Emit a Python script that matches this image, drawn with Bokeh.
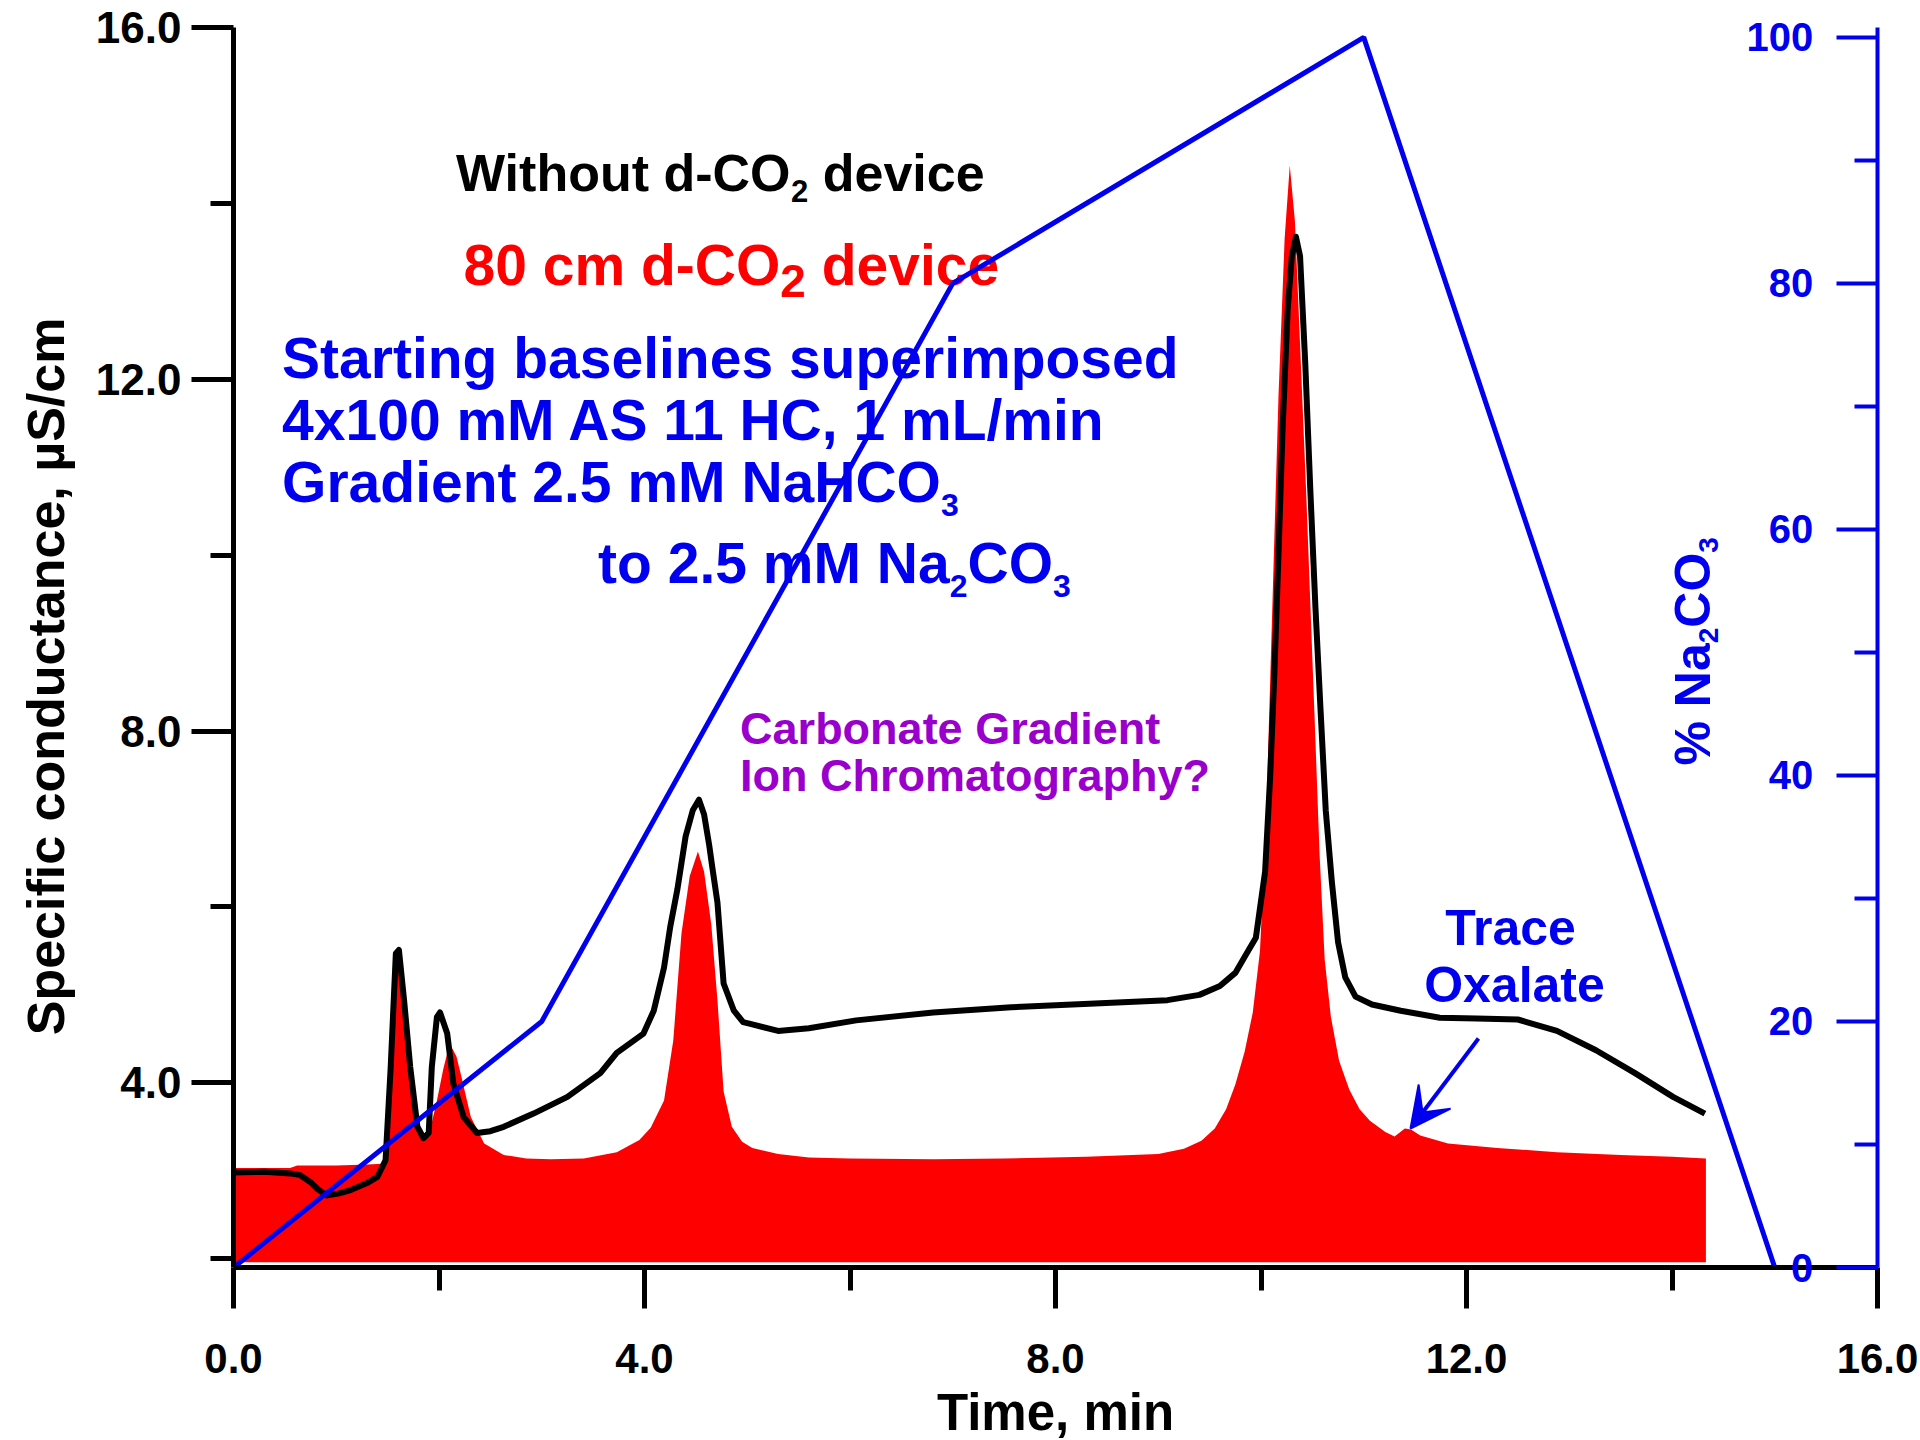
import math
from bokeh.plotting import figure
from bokeh.models import (Range1d, LinearAxis, FixedTicker, PrintfTickFormatter,
                          Arrow, VeeHead)
from bokeh.core.properties import value
from bokeh.embed import file_html
from bokeh.resources import INLINE

# ---------------- data ----------------
# 80 cm d-CO2 device (red filled trace), uS/cm
red_time = [0.00, 0.55, 0.62, 1.00, 1.30, 1.45, 1.51, 1.56, 1.60, 1.64, 1.72, 1.80, 1.87, 1.93,
            1.98, 2.04, 2.08, 2.13, 2.17, 2.21, 2.31, 2.44, 2.63, 2.85, 3.09, 3.41, 3.73, 3.95,
            4.06, 4.19, 4.28, 4.36, 4.44, 4.52, 4.58, 4.65, 4.71, 4.77, 4.85, 4.95, 5.05, 5.30,
            5.60, 6.00, 6.81, 7.50, 8.30, 9.00, 9.25, 9.42, 9.55, 9.66, 9.75, 9.84, 9.92, 9.99,
            10.05, 10.11, 10.17, 10.23, 10.28, 10.33, 10.38, 10.44, 10.52, 10.57, 10.62, 10.68,
            10.76, 10.86, 10.96, 11.06, 11.21, 11.30, 11.40, 11.46, 11.55, 11.82, 12.30, 12.88,
            13.50, 14.00, 14.33]
red_cond = [3.03, 3.03, 3.06, 3.06, 3.07, 3.08, 3.80, 5.02, 5.43, 4.94, 3.99, 3.46, 3.37, 3.55,
            3.80, 4.15, 4.34, 4.39, 4.30, 4.11, 3.61, 3.31, 3.18, 3.14, 3.13, 3.14, 3.21, 3.35,
            3.49, 3.80, 4.48, 5.70, 6.35, 6.63, 6.40, 5.80, 4.94, 3.90, 3.50, 3.33, 3.26, 3.19,
            3.15, 3.14, 3.13, 3.14, 3.16, 3.19, 3.25, 3.34, 3.48, 3.70, 3.98, 4.35, 4.80, 5.50,
            7.00, 9.40, 11.80, 13.60, 14.43, 13.80, 12.40, 10.70, 8.20, 6.60, 5.40, 4.75,
            4.25, 3.92, 3.70, 3.57, 3.44, 3.39, 3.48, 3.47, 3.40, 3.31, 3.26, 3.21,
            3.18, 3.16, 3.14]
red_base = 1.96

# Without d-CO2 device (black trace), uS/cm
black_time = [0.00, 0.30, 0.55, 0.65, 0.75, 0.82, 0.91, 1.02, 1.14, 1.30, 1.40, 1.48, 1.53, 1.58,
              1.61, 1.66, 1.72, 1.79, 1.85, 1.90, 1.93, 1.98, 2.01, 2.08, 2.14, 2.24, 2.37, 2.50,
              2.63, 2.92, 3.25, 3.57, 3.73, 3.99, 4.09, 4.19, 4.25, 4.32, 4.40, 4.47, 4.53, 4.58,
              4.63, 4.66, 4.71, 4.77, 4.87, 4.96, 5.03, 5.30, 5.60, 6.06, 6.81, 7.57, 8.33, 9.09,
              9.40, 9.60, 9.75, 9.85, 9.95, 10.04, 10.09, 10.13, 10.17, 10.21, 10.26, 10.30,
              10.34, 10.38, 10.43, 10.48, 10.53, 10.58, 10.63, 10.69, 10.75, 10.82, 10.92, 11.08,
              11.36, 11.74, 12.10, 12.50, 12.88, 13.26, 13.64, 14.01, 14.32]
black_cond = [2.98, 2.99, 2.97, 2.95, 2.87, 2.79, 2.72, 2.74, 2.78, 2.86, 2.93, 3.12, 4.18, 5.47,
              5.51, 4.94, 4.18, 3.50, 3.37, 3.43, 4.18, 4.75, 4.80, 4.56, 3.99, 3.61, 3.43, 3.45,
              3.50, 3.65, 3.84, 4.11, 4.34, 4.56, 4.82, 5.31, 5.77, 6.20, 6.80, 7.10, 7.22, 7.05,
              6.70, 6.45, 6.05, 5.13, 4.82, 4.69, 4.67, 4.59, 4.62, 4.71, 4.80, 4.86, 4.90, 4.94,
              5.00, 5.10, 5.25, 5.45, 5.65, 6.40, 7.50, 8.65, 10.00, 11.43, 12.80, 13.40,
              13.62, 13.40, 12.20, 10.74, 9.40, 8.23, 7.10, 6.28, 5.60, 5.20, 4.98, 4.89,
              4.82, 4.74, 4.73, 4.72, 4.59, 4.37, 4.11, 3.84, 3.65]

# eluent gradient, % Na2CO3
grad_time = [0, 3, 7, 11, 15]
grad_pct = [0, 20, 80, 100, 0]

x_ticks = [0, 4, 8, 12, 16]
x_minor = [2, 6, 10, 14]
y_ticks = [4, 8, 12, 16]
y_minor = [2, 6, 10, 14]
pct_ticks = [0, 20, 40, 60, 80, 100]
pct_minor = [10, 30, 50, 70, 90]
pct_labels = ["0", "20", "40", "60", "80", "100"]

# ---------------- styling ----------------
FONT = "Liberation Sans"
BLUE = "#0000EE"
RED = "#FF0000"
PURPLE = "#9900CC"

FW, FH = 1644, 1240
X0, X1 = 0.0, 16.0
Y0, Y1 = 1.9, 16.0
PX_X = FW / (X1 - X0)
PX_Y = FH / (Y1 - Y0)
LEFT_PX, TOP_PX = 233, 27  # frame position in page px (for placing annotations)
BASE_FIX = 0.36            # em, baseline correction for text glyphs
FIG_SPACE = "\u2007"


def X(px):
    return X0 + (px - LEFT_PX) / PX_X


def Y(py):
    return Y1 - (py - TOP_PX) / PX_Y


BOLD_W = {' ': 278, '%': 889, ',': 278, '-': 333, '.': 278, '/': 278, '?': 611,
          'A': 722, 'C': 722, 'G': 778, 'H': 722, 'I': 278, 'L': 611, 'M': 833, 'N': 722,
          'O': 778, 'S': 667, 'T': 611, 'W': 944,
          'a': 556, 'b': 611, 'c': 556, 'd': 611, 'e': 556, 'g': 611, 'h': 611, 'i': 278,
          'l': 278, 'm': 889, 'n': 611, 'o': 611, 'p': 611, 'r': 389, 's': 556, 't': 333,
          'u': 611, 'v': 556, 'x': 556, 'y': 556}
for _d in "0123456789":
    BOLD_W[_d] = 556


def tw(s, size):
    return sum(BOLD_W.get(c, 556) for c in s) / 1000.0 * size


p = figure(frame_width=FW, frame_height=FH,
           x_range=Range1d(X0, X1), y_range=Range1d(Y0, Y1),
           output_backend="svg", toolbar_location=None,
           min_border_left=LEFT_PX, min_border_top=TOP_PX, min_border_right=43,
           min_border_bottom=1440 - TOP_PX - FH,
           background_fill_color="white", border_fill_color="white")
p.xgrid.visible = False
p.ygrid.visible = False
p.outline_line_color = None
p.extra_y_ranges = {"pct": Range1d(0, 100.8)}

# bottom axis
xa = p.xaxis[0]
xa.ticker = FixedTicker(ticks=x_ticks, minor_ticks=x_minor)
xa.formatter = PrintfTickFormatter(format="%.1f")
xa.axis_line_width = 5
xa.major_tick_line_width = 5
xa.minor_tick_line_width = 5
xa.major_tick_out = 41
xa.major_tick_in = 0
xa.minor_tick_out = 23
xa.minor_tick_in = 0
xa.major_label_standoff = 35
xa.major_label_text_font = FONT
xa.major_label_text_font_style = "bold"
xa.major_label_text_font_size = "42px"
xa.major_label_text_color = "black"
xa.axis_label = "Time, min"
xa.axis_label_text_font = FONT
xa.axis_label_text_font_style = "bold"
xa.axis_label_text_font_size = "51px"
xa.axis_label_text_color = "black"
xa.axis_label_standoff = 8

# left axis (title padded at its upper end so it sits slightly below centre)
ya = p.yaxis[0]
ya.ticker = FixedTicker(ticks=y_ticks, minor_ticks=y_minor)
ya.formatter = PrintfTickFormatter(format="%.1f")
ya.axis_line_width = 5
ya.major_tick_line_width = 5
ya.minor_tick_line_width = 5
ya.major_tick_out = 42
ya.major_tick_in = 0
ya.minor_tick_out = 23
ya.minor_tick_in = 0
ya.major_label_standoff = 10
ya.major_label_text_font = FONT
ya.major_label_text_font_style = "bold"
ya.major_label_text_font_size = "44px"
ya.major_label_text_color = "black"
ya.axis_label = "Specific conductance, µS/cm" + FIG_SPACE * 2
ya.axis_label_text_font = FONT
ya.axis_label_text_font_style = "bold"
ya.axis_label_text_font_size = "52px"
ya.axis_label_text_color = "black"
ya.axis_label_standoff = 18

# right axis (% Na2CO3): ticks pointing inward, labels placed inside the plot
ra = LinearAxis(y_range_name="pct", ticker=FixedTicker(ticks=pct_ticks, minor_ticks=pct_minor))
ra.axis_line_color = BLUE
ra.axis_line_width = 4
ra.major_tick_line_color = BLUE
ra.minor_tick_line_color = BLUE
ra.major_tick_line_width = 4
ra.minor_tick_line_width = 4
ra.major_tick_in = 41
ra.major_tick_out = 0
ra.minor_tick_in = 23
ra.minor_tick_out = 0
ra.major_label_overrides = {t: lab.rjust(3, FIG_SPACE) for t, lab in zip(pct_ticks, pct_labels)}
ra.major_label_text_font = FONT
ra.major_label_text_font_style = "bold"
ra.major_label_text_font_size = "40px"
ra.major_label_text_color = BLUE
ra.major_label_standoff = -int(round(64 + tw("100", 40)))
p.add_layout(ra, "right")

# ---------------- traces ----------------
p.varea(x=red_time, y1=red_base, y2=red_cond, fill_color=RED, fill_alpha=1.0)
p.line(black_time, black_cond, line_color="black", line_width=6, line_join="round")


# ---------------- texts ----------------
def txt(x, y, s, size, color, align="left", angle=0.0):
    if angle == 0.0:
        y = y + BASE_FIX * size / PX_Y
    else:
        x = x - BASE_FIX * size / PX_X
    p.text(x=[x], y=[y], text=[s], text_font=value(FONT), text_font_style="bold",
           text_font_size=value(f"{size}px"), text_color=color, text_align=align,
           text_baseline="alphabetic", angle=angle)


def chem_line(x0, y0, parts, size, color):
    """parts: list of (string, is_sub, sub_size, drop_px)"""
    xpx = 0.0
    for s, sub, ssize, drop in parts:
        fs = ssize if sub else size
        while s.startswith(" "):
            xpx += tw(" ", fs)
            s = s[1:]
        txt(x0 + xpx / PX_X, y0 - drop / PX_Y, s, fs, color)
        xpx += tw(s, fs)


chem_line(X(455.5), Y(191), [("Without d-CO", False, 0, 0), ("2", True, 31, 11),
                              (" device", False, 0, 0)], 52, "black")
chem_line(X(463), Y(285), [("80 cm d-CO", False, 0, 0), ("2", True, 46, 12),
                            (" device", False, 0, 0)], 57, RED)
chem_line(X(281.6), Y(378.4), [("Starting baselines superimposed", False, 0, 0)], 57, BLUE)
chem_line(X(281.6), Y(439.6), [("4x100 mM AS 11 HC, 1 mL/min", False, 0, 0)], 57, BLUE)
chem_line(X(281.6), Y(502), [("Gradient 2.5 mM NaHCO", False, 0, 0), ("3", True, 32, 14)], 57, BLUE)
chem_line(X(597.6), Y(583), [("to 2.5 mM Na", False, 0, 0), ("2", True, 32, 14),
                              ("CO", False, 0, 0), ("3", True, 32, 14)], 57, BLUE)

txt(X(739.6), Y(744.5), "Carbonate Gradient", 45, PURPLE)
txt(X(739.6), Y(791), "Ion Chromatography?", 45, PURPLE)

txt(X(1510), Y(945), "Trace", 50, BLUE, align="center")
txt(X(1514), Y(1002), "Oxalate", 50, BLUE, align="center")

# right axis title, rotated (reads bottom to top)
_ty = 0.0
for s, sub in [("% Na", False), ("2", True), ("CO", False), ("3", True)]:
    size = 28 if sub else 50
    drop = 8 if sub else 0
    txt(X(1710) + drop / PX_X, Y(765) + _ty / PX_Y, s, size, BLUE, angle=math.pi / 2)
    _ty += tw(s, size)

# gradient line on top of texts
p.line(grad_time, grad_pct, y_range_name="pct", line_color=BLUE, line_width=5)

# arrow to trace oxalate
p.add_layout(Arrow(end=VeeHead(size=40, fill_color=BLUE, line_color=BLUE, line_width=2),
                   x_start=X(1478), y_start=Y(1038), x_end=X(1410), y_end=Y(1128),
                   line_color=BLUE, line_width=4))

open("out.html", "w").write(file_html(p, INLINE, "chart"))
